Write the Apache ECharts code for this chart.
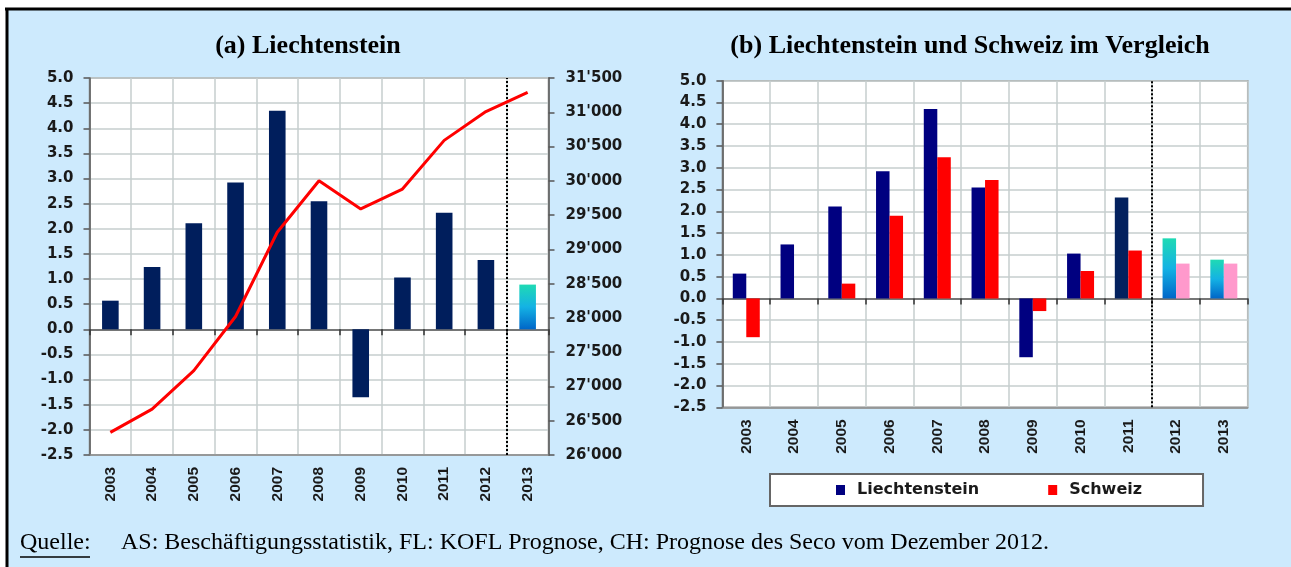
<!DOCTYPE html>
<html>
<head>
<meta charset="utf-8">
<script src="https://cdn.jsdelivr.net/npm/echarts@6/dist/echarts.min.js"></script>
<style>
  html, body { margin: 0; padding: 0; background: #ffffff; }
  #chart { width: 1291px; height: 567px; }
</style>
</head>
<body>
<div id="chart"></div>
<script>
// Jahre
const years = ['2003', '2004', '2005', '2006', '2007', '2008', '2009', '2010', '2011', '2012', '2013'];
// Veränderung der Beschäftigung in % (Liechtenstein)
const liechtenstein = [0.57, 1.24, 2.11, 2.92, 4.35, 2.55, -1.35, 1.03, 2.32, 1.38, 0.89];
// Beschäftigte Liechtenstein (rechte Achse)
const beschaeftigte = [26330, 26670, 27230, 28020, 29250, 30000, 29590, 29880, 30590, 31010, 31290];
// Veränderung der Beschäftigung in % (Schweiz)
const schweiz = [-0.89, 0, 0.34, 1.90, 3.24, 2.72, -0.29, 0.63, 1.10, 0.80, 0.80];

// Achsen
const rateMin = -2.5, rateMax = 5.0, rateStep = 0.5;
const empMin = 26000, empMax = 31500, empStep = 500;
// ab hier Prognose (Index in years)
const forecastLeft = 10;
const forecastRight = 9;

const gridColor = '#c6cece';
const axisColor = '#555555';
const labelFont = { fontFamily: 'DejaVu Sans', fontWeight: 'bold', fontSize: 15, color: '#1a1a1a' };
const yearFont = { fontFamily: 'Liberation Sans', fontWeight: 'bold', fontSize: 15.5, color: '#1a1a1a' };

function forecastGradient() {
  return new echarts.graphic.LinearGradient(0, 0, 0, 1, [
    { offset: 0, color: '#1fdab4' },
    { offset: 0.5, color: '#14b2e4' },
    { offset: 1, color: '#0066c8' }
  ]);
}

function thousands(v) {
  const s = String(Math.round(v));
  return s.slice(0, s.length - 3) + "'" + s.slice(s.length - 3);
}

function labelAxis(gridIndex) {
  return {
    type: 'category', gridIndex: gridIndex, data: years, position: 'bottom',
    axisLine: { onZero: false, lineStyle: { color: '#8a8a8a', width: 1.5 } },
    axisTick: { show: false },
    axisLabel: Object.assign({ rotate: 90, margin: 12, interval: 0 }, yearFont),
    splitLine: { show: true, lineStyle: { color: gridColor, width: 1.5 } }
  };
}
function zeroAxis(gridIndex) {
  return {
    type: 'category', gridIndex: gridIndex, data: years, position: 'top',
    axisLine: { onZero: true, lineStyle: { color: axisColor, width: 1.5 } },
    axisTick: { show: true, inside: true, length: 6, lineStyle: { color: '#333', width: 1.5 } },
    axisLabel: { show: false },
    splitLine: { show: false }
  };
}
function splitAxis(gridIndex) {
  return { type: 'value', gridIndex: gridIndex, min: 0, max: years.length, show: false,
    axisLine: { onZero: false } };
}
function rateAxis(gridIndex) {
  return {
    type: 'value', gridIndex: gridIndex, min: rateMin, max: rateMax, interval: rateStep,
    axisLine: { show: true, onZero: false, lineStyle: { color: axisColor, width: 1.5 } },
    axisTick: { show: true, length: 6, lineStyle: { color: axisColor, width: 1.5 } },
    axisLabel: Object.assign({ margin: 16, formatter: v => v.toFixed(1) }, labelFont),
    splitLine: { show: true, lineStyle: { color: gridColor, width: 1.5 } }
  };
}
function dottedSplit(xIndex, yIndex, at) {
  return {
    type: 'line', xAxisIndex: xIndex, yAxisIndex: yIndex, data: [], silent: true,
    markLine: {
      silent: true, symbol: 'none', label: { show: false },
      lineStyle: { type: [2, 2], color: '#000', width: 2 },
      data: [{ xAxis: at }]
    }
  };
}

const chart = echarts.init(document.getElementById('chart'));
chart.setOption({
  animation: false,
  title: [
    { text: '(a) Liechtenstein', left: 308, top: 33, textAlign: 'center', padding: 0,
      textStyle: { fontFamily: 'Liberation Serif', fontWeight: 'bold', fontSize: 26, color: '#000' } },
    { text: '(b) Liechtenstein und Schweiz im Vergleich', left: 970, top: 33, textAlign: 'center', padding: 0,
      textStyle: { fontFamily: 'Liberation Serif', fontWeight: 'bold', fontSize: 26, color: '#000' } }
  ],
  legend: {
    left: 770, top: 474, padding: [8, 61, 8, 66], itemGap: 69, itemWidth: 9, itemHeight: 10,
    backgroundColor: '#ffffff', borderColor: '#666666', borderWidth: 2,
    textStyle: { fontFamily: 'DejaVu Sans', fontWeight: 'bold', fontSize: 16, color: '#1a1a1a', padding: [0, 0, 0, 7] },
    data: [
      { name: 'Liechtenstein', icon: 'rect', itemStyle: { color: '#000080' } },
      { name: 'Schweiz', icon: 'rect', itemStyle: { color: '#ff0000' } }
    ]
  },
  grid: [
    { left: 89.5, top: 78, width: 459, height: 377, show: true, backgroundColor: '#ffffff',
      borderColor: '#8a8a8a', borderWidth: 1.5 },
    { left: 722.4, top: 80.7, width: 525.3, height: 326.6, show: true, backgroundColor: '#ffffff',
      borderColor: '#8a8a8a', borderWidth: 1.5 }
  ],
  xAxis: [
    labelAxis(0), zeroAxis(0), splitAxis(0),
    labelAxis(1), zeroAxis(1), splitAxis(1)
  ],
  yAxis: [
    rateAxis(0),
    {
      type: 'value', gridIndex: 0, position: 'right', min: empMin, max: empMax, interval: empStep,
      axisLine: { show: true, onZero: false, lineStyle: { color: axisColor, width: 1.5 } },
      axisTick: { show: true, length: 6, lineStyle: { color: axisColor, width: 1.5 } },
      axisLabel: Object.assign({ margin: 17, formatter: thousands }, labelFont),
      splitLine: { show: false }
    },
    rateAxis(1)
  ],
  series: [
    {
      name: 'Veränderung Beschäftigung FL', type: 'bar', xAxisIndex: 0, yAxisIndex: 0,
      data: liechtenstein, barWidth: 16.6,
      itemStyle: { color: p => p.dataIndex >= forecastLeft ? forecastGradient() : '#001e5c' }
    },
    {
      name: 'Beschäftigte FL', type: 'line', xAxisIndex: 0, yAxisIndex: 1,
      data: beschaeftigte, showSymbol: false, z: 5,
      lineStyle: { color: '#ff0000', width: 3 }, itemStyle: { color: '#ff0000' }
    },
    dottedSplit(2, 0, forecastLeft),
    {
      name: 'Liechtenstein', type: 'bar', xAxisIndex: 3, yAxisIndex: 2,
      data: liechtenstein, barWidth: 13.5, barGap: '0%',
      itemStyle: {
        color: p => p.dataIndex >= forecastRight ? forecastGradient()
          : (p.dataIndex === forecastRight - 1 ? '#03215e' : '#000080')
      }
    },
    {
      name: 'Schweiz', type: 'bar', xAxisIndex: 3, yAxisIndex: 2,
      data: schweiz, barWidth: 13.5, barGap: '0%',
      itemStyle: { color: p => p.dataIndex >= forecastRight ? '#ff99cc' : '#ff0000' }
    },
    dottedSplit(5, 2, forecastRight)
  ],
  graphic: [
    { type: 'rect', z: -10, silent: true, shape: { x: 7, y: 9, width: 1284, height: 558 },
      style: { fill: '#cdeafd' } },
    { type: 'line', z: -5, silent: true, shape: { x1: 5, y1: 9, x2: 1291, y2: 9 },
      style: { stroke: '#000', lineWidth: 3 } },
    { type: 'line', z: -5, silent: true, shape: { x1: 7, y1: 8, x2: 7, y2: 567 },
      style: { stroke: '#000', lineWidth: 3 } },
    { type: 'text', left: 20, top: 531, silent: true,
      style: { text: 'Quelle:', font: '24px "Liberation Serif"', fill: '#000' } },
    { type: 'line', silent: true, shape: { x1: 20, y1: 557, x2: 90, y2: 557 },
      style: { stroke: '#000', lineWidth: 1.5 } },
    { type: 'text', left: 121, top: 531, silent: true,
      style: { text: 'AS: Beschäftigungsstatistik, FL: KOFL Prognose, CH: Prognose des Seco vom Dezember 2012.',
        font: '24px "Liberation Serif"', fill: '#000' } }
  ]
});
</script>
</body>
</html>
